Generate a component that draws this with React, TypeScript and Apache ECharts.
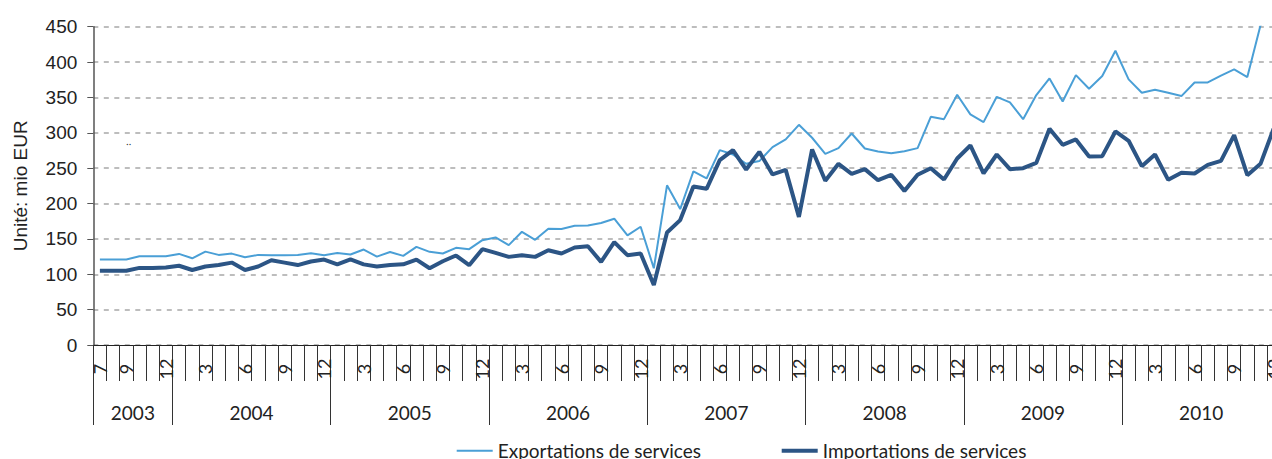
import React, { useEffect, useRef } from 'react';
import * as echarts from 'echarts';

// ---- Data (monthly, July 2003 – December 2010) ----
const START_YEAR = 2003;
const START_MONTH = 7;
const years = ['2003', '2004', '2005', '2006', '2007', '2008', '2009', '2010'];

const exportsData = [
  121, 121, 121, 125.5, 125.5, 125.5,
  128.8, 122.6, 132, 127.4, 129.2, 124, 127.4, 127, 127, 127.4, 129.7, 127,
  130, 128, 135, 125, 131.5, 126, 138.8, 131.7, 129.3, 137.4, 135.5, 148.2,
  152, 141.2, 160, 148.7, 164.3, 163.9, 168.6, 169, 172.4, 178.5, 154.9, 167.2,
  108.5, 225.8, 192.2, 245.5, 235.4, 275.5, 269.3, 256.1, 260, 279.7, 290.6, 311.3,
  293, 270.3, 278.3, 299, 277.8, 273.6, 271.2, 274, 278.3, 322.6, 319.3, 353.8,
  326, 315.1, 350.9, 342.9, 319.3, 353.3, 376.9, 344.3, 381.6, 362.3, 380.2, 416,
  375.5, 356.6, 360.8, 356.6, 351.9, 371.2, 371.2, 380.7, 389.6, 378.8, 452, 470,
];

const importsData = [
  105, 105, 105, 109, 109, 109.5,
  112, 106, 111, 113, 116.5, 106, 111, 119.8, 116.5, 113, 118, 120.8,
  114, 121, 114, 111, 113, 114, 120.8, 108.5, 118.4, 126.5, 112.8, 135.5,
  130.3, 124.6, 127, 124.6, 134, 129.3, 137.8, 139.7, 117.5, 145.4, 127, 129.3,
  84.9, 159.1, 176.6, 224, 220.8, 261.3, 275.5, 248.1, 273.1, 241.1, 247.6, 181.1,
  276.4, 232.1, 256.1, 242, 248.6, 233, 240.6, 217.9, 240.6, 250, 234, 263.7,
  282.1, 242.5, 269.3, 248.6, 250, 257.5, 305.7, 283, 290.6, 266.5, 267, 301.9,
  288.7, 252.8, 269.3, 233.5, 243.4, 242.5, 254.7, 260.4, 296.7, 240.1, 256.1, 306,
];

const seriesNames = ['Exportations de services', 'Importations de services'];
const yAxisName = 'Unité: mio EUR';
const Y_MIN = 0;
const Y_MAX = 450;
const Y_INTERVAL = 50;

// month categories
const monthCats: string[] = [];
const monthNums: number[] = [];
{
  let y = START_YEAR;
  let m = START_MONTH;
  for (let i = 0; i < exportsData.length; i++) {
    monthCats.push(`${y}-${m}`);
    monthNums.push(m);
    m++;
    if (m > 12) { m = 1; y++; }
  }
}

// year axis: boundaries between months (n+1 points)
const yearPoints: string[] = [];
for (let i = 0; i <= monthCats.length; i++) yearPoints.push(String(i));
const yearBoundaries = new Set<number>([0, monthCats.length]);
const yearCenters = new Map<number, string>();
{
  let start = 0;
  years.forEach((yr, k) => {
    const len = k === 0 ? 12 - START_MONTH + 1 : 12;
    yearBoundaries.add(start);
    yearCenters.set(start + len / 2, yr);
    start += len;
  });
}

const FONT_A = '"Liberation Sans", Arial, sans-serif';
const FONT_B = 'Lato, "Liberation Sans", sans-serif';
const C_EXP = '#4a9fd6';
const C_IMP = '#2c5585';

export default function App() {
  const ref = useRef<HTMLDivElement>(null);

  useEffect(() => {
    if (!ref.current) return;
    const chart = echarts.init(ref.current, undefined, { renderer: 'svg' });
    const legendText = { fontFamily: FONT_B, fontSize: 19, color: '#222', lineHeight: 20 };
    chart.setOption({
      animation: false,
      backgroundColor: '#ffffff',
      grid: { left: 93.3, right: 9.7, top: 26.7, bottom: 114, containLabel: false },
      legend: [
        {
          left: 451.7,
          top: 435.7,
          icon: 'rect',
          itemWidth: 36,
          itemHeight: 2,
          data: [seriesNames[0]],
          textStyle: legendText,
        },
        {
          left: 776.7,
          top: 435.7,
          icon: 'rect',
          itemWidth: 36,
          itemHeight: 4,
          data: [seriesNames[1]],
          textStyle: legendText,
        },
      ],
      xAxis: [
        {
          type: 'category',
          data: monthCats,
          boundaryGap: true,
          position: 'bottom',
          axisLine: { show: true, lineStyle: { color: '#222', width: 1 } },
          axisTick: { show: true, interval: 0, length: 36, lineStyle: { color: '#333', width: 1 } },
          axisLabel: {
            interval: 0,
            rotate: 90,
            margin: 24,
            align: 'center',
            verticalAlign: 'middle',
            fontFamily: FONT_B,
            fontSize: 18,
            color: '#222',
            formatter: (_v: string, idx: number) => {
              const m = monthNums[idx];
              return idx === 0 || m % 3 === 0 ? String(m) : '';
            },
          },
          splitLine: { show: false },
        },
        {
          type: 'category',
          data: yearPoints,
          boundaryGap: false,
          position: 'bottom',
          offset: 0,
          axisLine: { show: false },
          axisTick: {
            show: true,
            length: 80,
            interval: (idx: number) => yearBoundaries.has(idx),
            lineStyle: { color: '#333', width: 1 },
          },
          axisLabel: {
            interval: (idx: number) => yearCenters.has(idx),
            margin: 67,
            verticalAlign: 'middle',
            fontFamily: FONT_B,
            fontSize: 19,
            color: '#222',
            formatter: (_v: string, idx: number) => yearCenters.get(idx) || '',
          },
          splitLine: { show: false },
        },
      ],
      yAxis: {
        type: 'value',
        min: Y_MIN,
        max: Y_MAX,
        interval: Y_INTERVAL,
        name: yAxisName,
        nameLocation: 'middle',
        nameGap: 63,
        nameTextStyle: { fontFamily: FONT_A, fontSize: 19, color: '#222' },
        axisLine: { show: true, lineStyle: { color: '#555', width: 1.5 } },
        axisTick: { show: true, length: 6, lineStyle: { color: '#555' } },
        axisLabel: { margin: 16, fontFamily: FONT_A, fontSize: 19, color: '#222' },
        splitLine: { show: true, lineStyle: { color: '#bdbdbd', width: 2, type: [5, 5.5] } },
      },
      series: [
        {
          name: seriesNames[0],
          type: 'line',
          data: exportsData,
          symbol: 'none',
          showSymbol: false,
          lineStyle: { color: C_EXP, width: 2 },
          itemStyle: { color: C_EXP },
          z: 2,
        },
        {
          name: seriesNames[1],
          type: 'line',
          data: importsData,
          symbol: 'none',
          showSymbol: false,
          lineStyle: { color: C_IMP, width: 4 },
          itemStyle: { color: C_IMP },
          z: 3,
        },
      ],
      graphic: [
        { type: 'text', left: 126, top: 136, style: { text: '‥', fontSize: 10, fill: '#333' } },
      ],
    });
    return () => chart.dispose();
  }, []);

  return (
    <div style={{ position: 'fixed', left: 0, top: 0, width: 1272, height: 459, overflow: 'hidden', background: '#fff' }}>
      <div ref={ref} style={{ width: 1290, height: 459 }} />
    </div>
  );
}
